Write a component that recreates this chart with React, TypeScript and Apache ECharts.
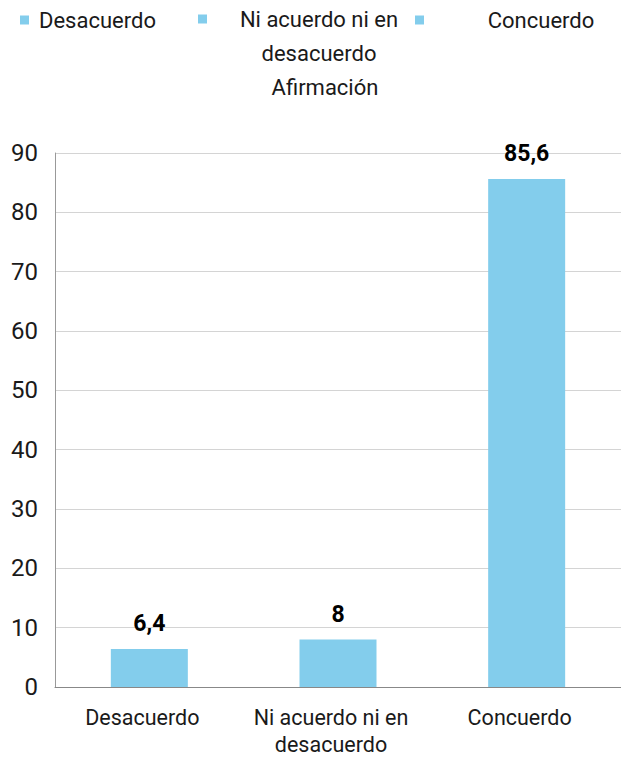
import React, { useEffect, useRef } from "react";
import * as echarts from "echarts";

const categories = ["Desacuerdo", "Ni acuerdo ni en\ndesacuerdo", "Concuerdo"];
const seriesNames = ["Desacuerdo", "Ni acuerdo ni en desacuerdo", "Concuerdo"];
const values = [6.4, 8, 85.6];
const titleText = "Afirmación";
const yMin = 0;
const yMax = 90;
const yInterval = 10;

const BAR = "#83CDEC";
const TXT = "#1a1a1a";
const FONT = "Roboto";
const LEG = 22;

export default function App() {
  const ref = useRef<HTMLDivElement>(null);
  useEffect(() => {
    if (!ref.current) return;
    const chart = echarts.init(ref.current, null, { renderer: "svg" });
    const series = seriesNames.map((name, i) => ({
      name,
      type: "bar",
      barWidth: 77,
      barGap: "-100%",
      itemStyle: { color: BAR },
      data: values.map((v, j) => (j === i ? v : "-")),
      label: {
        show: true,
        position: "top",
        distance: 14,
        fontFamily: FONT,
        fontWeight: "bold",
        fontSize: 23,
        color: "#000",
        formatter: (p: any) => String(p.value).replace(".", ","),
      },
    }));
    const legendBase = {
      orient: "horizontal",
      itemWidth: 9,
      itemHeight: 9,
      padding: 0,
      icon: "rect",
      selectedMode: false,
      textStyle: { fontFamily: FONT, fontSize: LEG, color: TXT },
    };
    const L = 34;
    chart.setOption({
      animation: false,
      title: {
        text: titleText,
        left: 320,
        textAlign: "center",
        top: 71,
        textStyle: { fontFamily: FONT, fontSize: LEG, fontWeight: "normal", color: TXT },
      },
      legend: [
        {
          ...legendBase,
          data: [seriesNames[0]],
          left: 20,
          top: 9,
          formatter: (n: string) => `{a|${n}}`,
          textStyle: {
            ...legendBase.textStyle,
            rich: { a: { fontFamily: FONT, fontSize: LEG, color: TXT, padding: [0, 0, 0, 5] } },
          },
        },
        {
          ...legendBase,
          data: [seriesNames[1]],
          left: 198,
          top: 25 - 1.5 * L,
          formatter: () => "{a| }\n{a|Ni acuerdo ni en}\n{a|desacuerdo}",
          textStyle: {
            ...legendBase.textStyle,
            rich: {
              a: { fontFamily: FONT, fontSize: LEG, color: TXT, width: 214, align: "center", lineHeight: L },
            },
          },
        },
        {
          ...legendBase,
          data: [seriesNames[2]],
          left: 415,
          top: 9,
          formatter: (n: string) => `{a|${n}}`,
          textStyle: {
            ...legendBase.textStyle,
            rich: { a: { fontFamily: FONT, fontSize: LEG, color: TXT, width: 224, align: "center" } },
          },
        },
      ],
      grid: { left: 55, right: -4, top: 153, bottom: 67, containLabel: false },
      xAxis: {
        type: "category",
        data: categories,
        axisLine: { show: true, lineStyle: { color: "#888", width: 1 } },
        axisTick: { show: false },
        axisLabel: {
          fontFamily: FONT,
          fontSize: 21.5,
          color: TXT,
          margin: 17,
          lineHeight: 27,
          interval: 0,
          padding: [0, 14, 0, 0],
        },
      },
      yAxis: {
        type: "value",
        min: yMin,
        max: yMax,
        interval: yInterval,
        axisLine: { show: true, lineStyle: { color: "#999", width: 1 } },
        axisTick: { show: false },
        splitLine: { show: true, lineStyle: { color: "#d4d4d4", width: 1 } },
        axisLabel: { fontFamily: FONT, fontSize: 24, color: TXT, margin: 17 },
      },
      series,
    });
    return () => chart.dispose();
  }, []);
  return (
    <div
      ref={ref}
      style={{ position: "absolute", left: 0, top: 0, width: 621, height: 758 }}
    />
  );
}
